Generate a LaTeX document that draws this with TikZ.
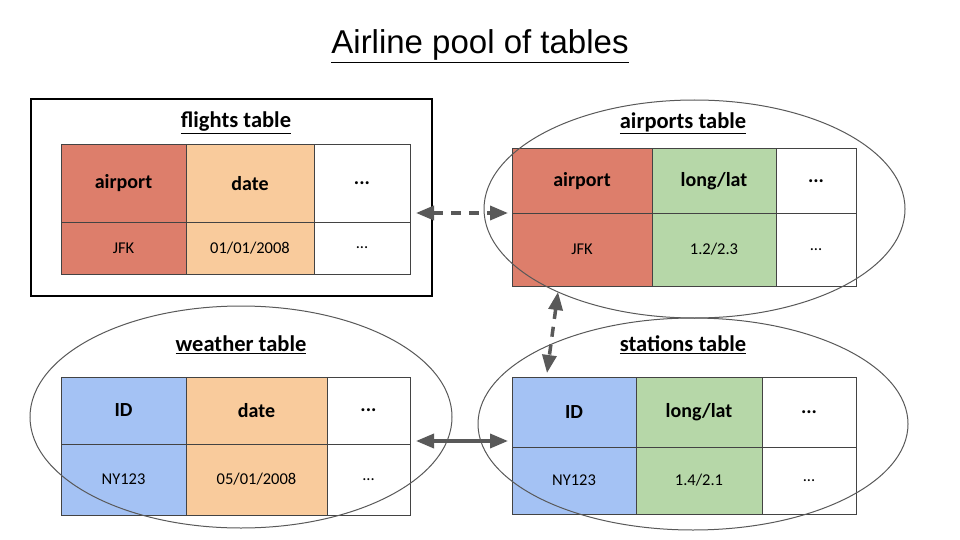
\documentclass[tikz,border=0pt]{standalone}
\usepackage{fontspec}
\setmainfont{Carlito}
\newfontfamily\titlefont{Liberation Sans}
\usetikzlibrary{arrows.meta,shapes.geometric,calc}
\definecolor{cred}{HTML}{DD7E6B}
\definecolor{corange}{HTML}{F9CB9C}
\definecolor{cgreen}{HTML}{B6D7A8}
\definecolor{cblue}{HTML}{A4C2F4}
\definecolor{cline}{HTML}{434343}
\definecolor{carrow}{HTML}{595959}
\tikzset{
  cellbox/.style={draw=cline, line width=1pt, inner sep=0pt, outer sep=0pt, text=black},
  headtxt/.style={font=\fontsize{20}{23}\selectfont\bfseries},
  datatxt/.style={font=\fontsize{16.5}{19}\selectfont},
  tabtitle/.style={font=\fontsize{22.5}{26}\selectfont\bfseries, inner sep=0pt},
  poolell/.style={ellipse, draw=carrow, line width=1pt, inner sep=0pt},
  arr/.style={line width=3.5pt, draw=carrow, {Triangle[length=18pt,width=14pt]}-{Triangle[length=18pt,width=14pt]}},
  dasharr/.style={arr, dash pattern=on 10pt off 8pt}
}
\newcommand{\tcell}[8]{%
  \node[cellbox, fill=#6, #7, minimum width={(#4-#2)*1pt}, minimum height={(#5-#3)*1pt}] (#1) at ({(#2+#4)/2},{(#3+#5)/2}) {#8};}
\begin{document}
\begin{tikzpicture}[x=1pt,y=-1pt]
\useasboundingbox[fill=white] (0,0) rectangle (960,540);
% title
\node[font=\titlefont\fontsize{33}{38}\selectfont] (title) at (480,46) {\underline{Airline pool of tables}};
% flights table
\node[draw=black, line width=2pt, minimum width=401pt, minimum height=197pt, inner sep=0pt] (fbox) at (231.5,197.5) {};
\node[tabtitle] (ftitle) at (236,123) {\underline{flights table}};
\tcell{fH1}{61}{145}{186}{222}{cred}{headtxt}{airport}
\tcell{fH2}{186}{145}{314}{222}{corange}{headtxt}{date}
\tcell{fH3}{314}{145}{410}{222}{white}{headtxt}{...}
\tcell{fD1}{61}{222}{186}{274}{cred}{datatxt}{JFK}
\tcell{fD2}{186}{222}{314}{274}{corange}{datatxt}{01/01/2008}
\tcell{fD3}{314}{222}{410}{274}{white}{datatxt}{...}
% airports table
\node[tabtitle] (atitle) at (683,123) {\underline{airports table}};
\tcell{aH1}{512}{149}{652}{213}{cred}{headtxt}{airport}
\tcell{aH2}{652}{149}{776}{213}{cgreen}{headtxt}{long/lat}
\tcell{aH3}{776}{149}{856}{213}{white}{headtxt}{...}
\tcell{aD1}{512}{213}{652}{286}{cred}{datatxt}{JFK}
\tcell{aD2}{652}{213}{776}{286}{cgreen}{datatxt}{1.2/2.3}
\tcell{aD3}{776}{213}{856}{286}{white}{datatxt}{...}
% weather table
\node[tabtitle] (wtitle) at (241,345) {\underline{weather table}};
\tcell{wH1}{61}{377}{186}{444}{cblue}{headtxt}{ID}
\tcell{wH2}{186}{377}{327}{444}{corange}{headtxt}{date}
\tcell{wH3}{327}{377}{410}{444}{white}{headtxt}{...}
\tcell{wD1}{61}{444}{186}{515}{cblue}{datatxt}{NY123}
\tcell{wD2}{186}{444}{327}{515}{corange}{datatxt}{05/01/2008}
\tcell{wD3}{327}{444}{410}{515}{white}{datatxt}{...}
% stations table
\node[tabtitle] (stitle) at (683,345) {\underline{stations table}};
\tcell{sH1}{512}{377}{636}{447}{cblue}{headtxt}{ID}
\tcell{sH2}{636}{377}{762}{447}{cgreen}{headtxt}{long/lat}
\tcell{sH3}{762}{377}{856}{447}{white}{headtxt}{...}
\tcell{sD1}{512}{447}{636}{514}{cblue}{datatxt}{NY123}
\tcell{sD2}{636}{447}{762}{514}{cgreen}{datatxt}{1.4/2.1}
\tcell{sD3}{762}{447}{856}{514}{white}{datatxt}{...}
% ellipses
\node[poolell, minimum width=421pt, minimum height=218pt] (aell) at (694.5,209) {};
\node[poolell, minimum width=422pt, minimum height=222pt] (well) at (241,417) {};
\node[poolell, minimum width=430pt, minimum height=212pt] (sell) at (693,424) {};
% connectors
\draw[dasharr] ($(fH3.south east |- aH1.south west)+(6,0)$) -- ($(aH1.south west)+(-4,0)$);
\draw[dasharr] ($(aD1.south west)+(46,6)$) -- ($(sH1.north west)+(35,-4)$);
\draw[arr] ($(wH3.south east)+(6,-3)$) -- ($(sH1.south west |- wH3.south east)+(-4,-3)$);
\end{tikzpicture}
\end{document}
